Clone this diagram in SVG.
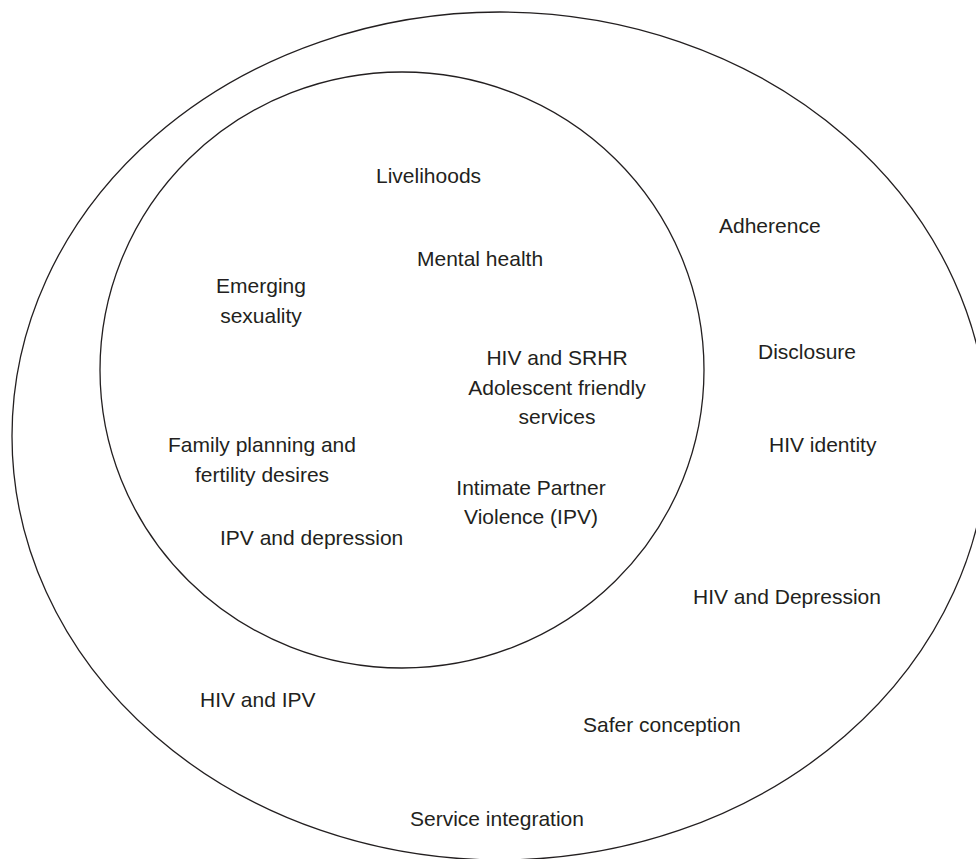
<svg xmlns="http://www.w3.org/2000/svg" width="976" height="859" viewBox="0 0 976 859">
<style>
.ring{fill:none;stroke:#231f20;stroke-width:1.3}
text{font-family:"Liberation Sans",Arial,sans-serif;font-size:21px;fill:#231f20}
.m{text-anchor:middle}
</style>
<rect width="976" height="859" fill="#fff"/>
<g id="outer-ring"><ellipse class="ring" cx="500" cy="436" rx="488" ry="424"/></g>
<g id="inner-ring"><ellipse class="ring" cx="402" cy="370" rx="302" ry="298"/></g>
<g id="connectors"></g>
<g id="livelihoods"><text x="376" y="183">Livelihoods</text></g>
<g id="mental-health"><text x="417" y="266">Mental health</text></g>
<g id="emerging-sexuality"><text class="m" x="261" y="293">Emerging</text><text class="m" x="261" y="323">sexuality</text></g>
<g id="hiv-srhr"><text class="m" x="557" y="365">HIV and SRHR</text><text class="m" x="557" y="395">Adolescent friendly</text><text class="m" x="557" y="424">services</text></g>
<g id="family-planning"><text class="m" x="262" y="452">Family planning and</text><text class="m" x="262" y="482">fertility desires</text></g>
<g id="ipv"><text class="m" x="531" y="495">Intimate Partner</text><text class="m" x="531" y="524">Violence (IPV)</text></g>
<g id="ipv-depression"><text x="220" y="545">IPV and depression</text></g>
<g id="adherence"><text x="719" y="233">Adherence</text></g>
<g id="disclosure"><text x="758" y="359">Disclosure</text></g>
<g id="hiv-identity"><text x="769" y="452">HIV identity</text></g>
<g id="hiv-depression"><text x="693" y="604">HIV and Depression</text></g>
<g id="hiv-ipv"><text x="200" y="707">HIV and IPV</text></g>
<g id="safer-conception"><text x="583" y="732">Safer conception</text></g>
<g id="service-integration"><text x="410" y="826">Service integration</text></g>
</svg>
